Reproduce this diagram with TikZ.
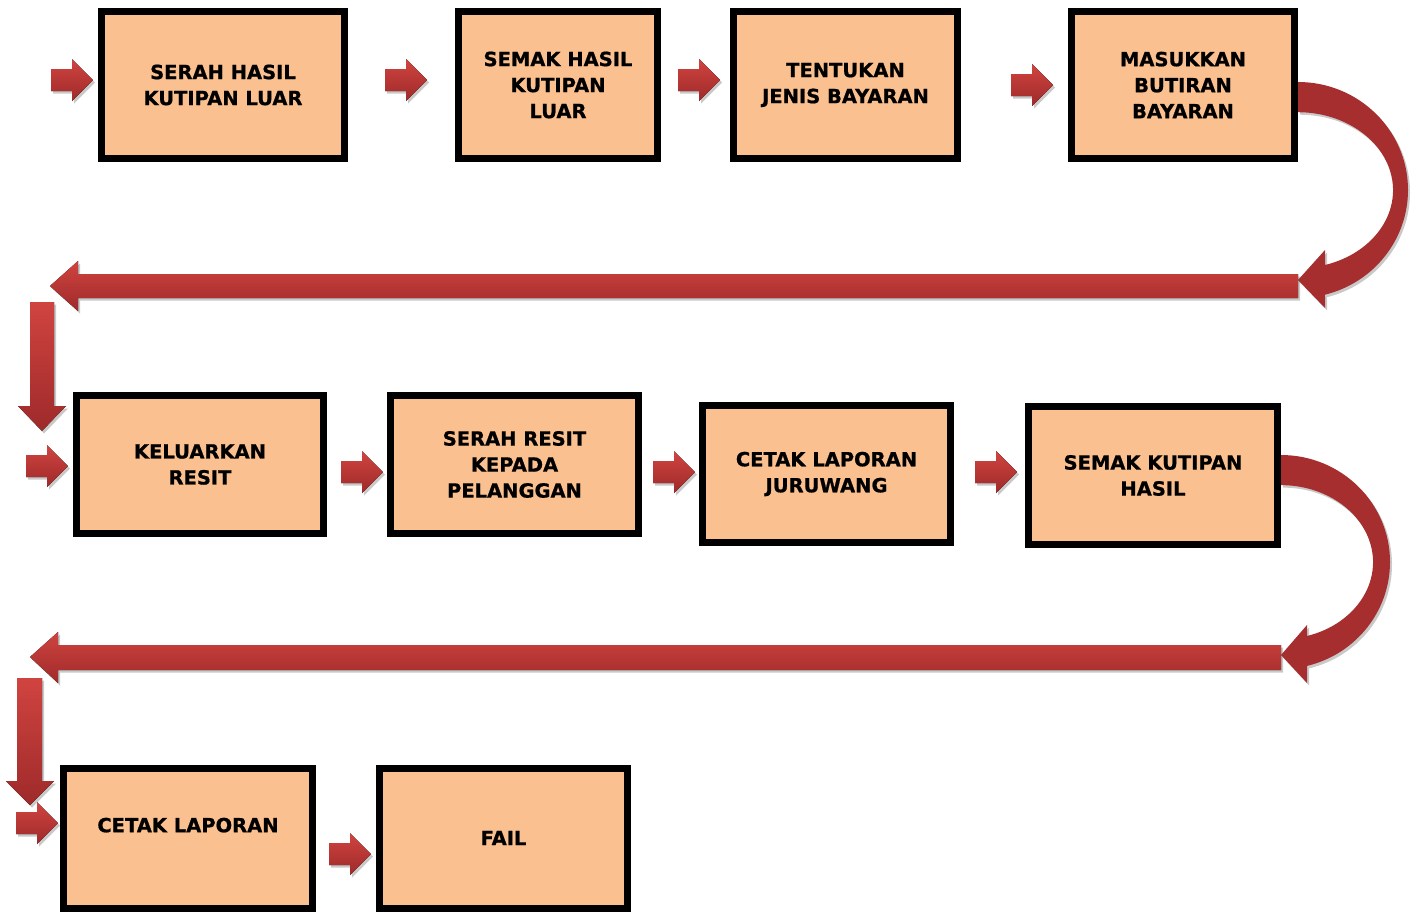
\documentclass[tikz,border=0pt]{standalone}
\usepackage{fontspec}
\setmainfont{DejaVu Sans}
\newfontfamily\boxfont[FakeBold=0.8]{DejaVu Sans Bold}
\usepackage{tikz}
\usetikzlibrary{shadows}

\definecolor{peach}{RGB}{250,192,143}
\definecolor{arrowtop}{RGB}{208,68,64}
\definecolor{arrowbot}{RGB}{158,42,42}
\definecolor{arrowdark}{RGB}{166,46,46}

\begin{document}
\begin{tikzpicture}[x=1pt,y=-1pt,
  box/.style={draw=black,line width=7pt,fill=peach,align=center,inner sep=0pt,
    font=\fontsize{19.5}{26}\selectfont\boxfont},
  redarrow/.style={top color=arrowtop,bottom color=arrowbot,
    drop shadow={shadow xshift=2pt,shadow yshift=-2.5pt,opacity=.3,fill=black!70}},
  curvearrow/.style={fill=arrowdark,
    drop shadow={shadow xshift=2pt,shadow yshift=-2.5pt,opacity=.3,fill=black!70}},
  pics/kecil/.style={code={
    \fill[redarrow] (-42,-11) -- (-21,-11) -- (-21,-21) -- (0,0) -- (-21,21) -- (-21,11) -- (-42,11) -- cycle;}}]
\useasboundingbox (0,0) rectangle (1419,911);

% baris pertama
\node[box,minimum width=243,minimum height=147] (serah) at (223,85) {SERAH HASIL\\KUTIPAN LUAR};
\node[box,minimum width=199,minimum height=147] (semak) at (558,85) {SEMAK HASIL\\KUTIPAN\\LUAR};
\node[box,minimum width=224,minimum height=147] (tentukan) at (845.5,85) {TENTUKAN\\JENIS BAYARAN};
\node[box,minimum width=223,minimum height=147] (masukkan) at (1183,85) {MASUKKAN\\BUTIRAN\\BAYARAN};

% baris kedua
\node[box,minimum width=247,minimum height=138] (keluarkan) at (200,464.5) {KELUARKAN\\RESIT};
\node[box,minimum width=248,minimum height=138] (serahresit) at (514.5,464.5) {SERAH RESIT\\KEPADA\\PELANGGAN};
\node[box,minimum width=248,minimum height=137] (juruwang) at (826.5,474) {CETAK LAPORAN\\JURUWANG};
\node[box,minimum width=249,minimum height=138] (semakhasil) at (1153,475.5) {SEMAK KUTIPAN\\HASIL};

% baris ketiga
\node[box,minimum width=249,minimum height=140] (laporan) at (188,838) {CETAK LAPORAN\\\mbox{}};
\node[box,minimum width=248,minimum height=140] (fail) at (503.5,838) {FAIL};

% anak panah kecil
\pic at (93,80) {kecil};
\pic at (427,80) {kecil};
\pic at (720,80) {kecil};
\pic at (1053,85) {kecil};
\pic at (68,466) {kecil};
\pic at (383,472) {kecil};
\pic at (695,472) {kecil};
\pic at (1017,472) {kecil};
\pic at (58,823) {kecil};
\pic at (371,854) {kecil};

% anak panah melengkung
\fill[curvearrow] (1298,82) arc[start angle=-90,end angle=75.8,x radius=110,y radius=108]
  -- (1325,308) -- (1298,280) -- (1325,250) -- (1325,265)
  arc[start angle=73.5,end angle=-90,x radius=95,y radius=78] -- cycle;
\fill[curvearrow] (1281,455) arc[start angle=-90,end angle=76.2,x radius=109,y radius=107]
  -- (1307,683) -- (1281,655) -- (1307,625) -- (1307,636)
  arc[start angle=73.6,end angle=-90,x radius=92,y radius=77] -- cycle;

% anak panah panjang
\fill[redarrow] (1298,274) -- (78,274) -- (78,261) -- (50,286) -- (78,311) -- (78,298) -- (1298,298) -- cycle;
\fill[redarrow] (1281,645) -- (58,645) -- (58,632) -- (30,657) -- (58,683) -- (58,670) -- (1281,670) -- cycle;
\fill[redarrow] (30,302) -- (54,302) -- (54,406) -- (66,406) -- (42,431) -- (18,406) -- (30,406) -- cycle;
\fill[redarrow] (17,678) -- (42,678) -- (42,781) -- (54,781) -- (30,805) -- (6,781) -- (17,781) -- cycle;
\end{tikzpicture}
\end{document}
